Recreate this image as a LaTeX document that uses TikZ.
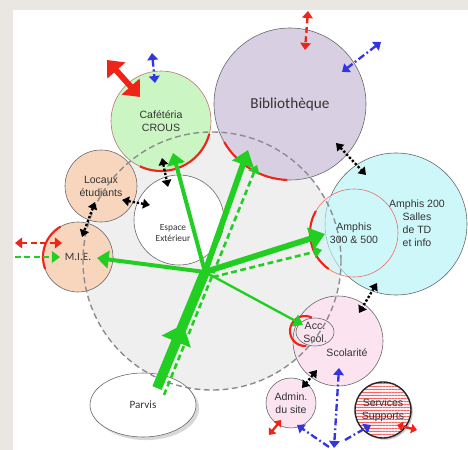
\documentclass[tikz,border=0pt]{standalone}
\usepackage{fontspec}
\setmainfont{Liberation Sans}
\newfontfamily\calib{Carlito}
\usetikzlibrary{arrows.meta,calc,shadows,shapes.geometric,patterns.meta,decorations.markings}

\definecolor{grn}{RGB}{34,206,34}
\definecolor{rouge}{RGB}{238,36,24}
\definecolor{bleu}{RGB}{52,52,226}
\definecolor{cafefill}{RGB}{204,245,196}
\definecolor{bibfill}{RGB}{216,208,226}
\definecolor{amphfill}{RGB}{206,247,250}
\definecolor{peach}{RGB}{248,214,190}
\definecolor{rose}{RGB}{251,228,240}
\definecolor{campus}{RGB}{239,239,239}
\definecolor{frame}{RGB}{234,231,226}

\tikzstyle{zone}=[circle,draw=black!60,line width=0.5pt,inner sep=0pt,outer sep=0pt,align=center,font=\fontsize{9}{11}\selectfont,text=black!80]
\tikzstyle{lbl}=[align=center,font=\fontsize{9}{11}\selectfont,text=black!80]
\tikzstyle{redarc}=[draw=rouge,line width=1.8pt]
\tikzstyle{bigarrow}=[draw=grn,line width=5pt,-{Triangle[length=13pt,width=19pt]}]
\tikzstyle{midarrow}=[draw=grn,line width=3.4pt,-{Triangle[length=10pt,width=15pt]}]
\tikzstyle{thinarrow}=[draw=grn,line width=2pt,-{Triangle[length=8pt,width=11pt]}]
\tikzstyle{grndash}=[draw=grn,line width=2.2pt,dash pattern=on 5pt off 3pt,-{Triangle[length=7pt,width=10pt]}]
\tikzstyle{reddash}=[draw=rouge,line width=2pt,dash pattern=on 5pt off 3pt,>={Triangle[length=6pt,width=9pt]}]
\tikzstyle{redsmall}=[draw=rouge,line width=2pt,>={Triangle[length=5pt,width=8pt]},<->]
\tikzstyle{redbig}=[draw=rouge,line width=5pt,>={Triangle[length=12pt,width=20pt]},<->]
\tikzstyle{bluedash}=[draw=bleu,line width=2pt,dash pattern=on 6pt off 2.5pt on 1.5pt off 2.5pt,>={Triangle[length=6pt,width=9pt]}]
\tikzstyle{dotarrow}=[draw=black,line width=2pt,dash pattern=on 2pt off 1.6pt,>={Triangle[length=6pt,width=8pt]},<->]

\begin{document}
\begin{tikzpicture}[x=0.03cm,y=-0.03cm]

% frame
\fill[frame] (0,0) rectangle (468,450);
\fill[white] (13,10) rectangle (468,450);
\useasboundingbox (0,0) rectangle (468,450);

% campus
\fill[campus] (212,261) circle[radius=3.87cm];

% zones
\node[zone,fill=amphfill,minimum size=4.26cm] (a200) at (396,224) {};
\node[lbl] (a200T) at (417,223) {Amphis 200\\Salles\\de TD\\et info};
\node[zone,fill=amphfill,fill opacity=.6,text opacity=1,draw=rouge!70,minimum size=2.64cm] (a300) at (354,233) {Amphis\\300 \& 500};
\node[zone,fill=bibfill,minimum size=4.56cm,font=\calib\fontsize{13}{15}\selectfont] (bib) at (290,104) {Bibliothèque};
\node[zone,fill=cafefill,draw=rouge!60!black!60,minimum size=3cm] (cafe) at (161,121) {Cafétéria\\CROUS};
\node[zone,fill=peach,minimum size=2.16cm] (locaux) at (101,186) {Locaux\\étudiants};
\node[zone,fill=peach,minimum size=2.1cm,font=\calib\fontsize{9.5}{11}\selectfont] (mie) at (78,257) {M.I.E.};
\node[zone,fill=white,minimum size=2.7cm] (espace) at (179,220) {};
\node[lbl,font=\calib\fontsize{8}{10}\selectfont] (espaceT) at (173,233) {Espace\\Extérieur};
\node[zone,fill=rose,minimum size=2.7cm] (scol) at (338,341) {};
\node[lbl] (scolT) at (347,353) {Scolarité};
\node[zone,ellipse,fill=rose,minimum width=1.14cm,minimum height=0.84cm,inner sep=-4pt] (acc) at (315,332) {Acc.\\Scol.};
\node[zone,fill=rose,minimum size=1.5cm] (admin) at (291,403) {Admin.\\du site};
\node[zone,draw=black!85,line width=1.2pt,drop shadow={opacity=.45,shadow xshift=1.5pt,shadow yshift=-1.5pt},preaction={fill=rose!60},pattern={Lines[angle=0,distance=2.6pt,line width=.5pt]},pattern color=rouge!70,minimum size=1.68cm] (serv) at (383,410) {Services\\Supports};
\node[zone,ellipse,fill=white,minimum width=3.18cm,minimum height=1.92cm,font=\calib\fontsize{9.5}{11}\selectfont,drop shadow={opacity=.3}] (parvis) at (143,405) {Parvis};

% campus outline
\draw[black!45,line width=1.2pt,dash pattern=on 5pt off 3pt] (212,261) circle[radius=3.87cm];

% red borders
\foreach \n/\a/\b/\r in {cafe/-15/-115/1.5cm, bib/-92/-150/2.28cm, a300/150/235/1.32cm, mie/120/200/1.05cm}
    \draw[redarc] (\n.\a) arc[start angle=\a, end angle=\b, radius=\r];
\draw[redarc] ($(acc)+(-10,-1)$) ++(63:0.45cm) arc[start angle=63, end angle=275, radius=0.45cm];

% arrow ends
\foreach \pos/\name in {{(205,272)/hub},{(213,277)/hubD},{(157,388)/pv1},{(164,395)/pv2},
    {(173,153)/tCafe},{(248,150)/tBib},{(257,165)/tBibD},{(325,234)/tAmph},{(322,250)/tAmphD},
    {(97,258)/tMie},{(303,325)/tAcc},{(15,257)/gIn},{(60,257)/tMieD},{(15,243)/rIn},{(62,243)/rMie},
    {(107,60)/rc1},{(140,97)/rc2},{(152,53)/bc1},{(155,83)/bc2},{(308,11)/rb1},{(305,50)/rb2},
    {(381,42)/bb1},{(342,72)/bb2},{(339,368)/bs1},{(334,448)/bs2},{(329,447)/bsA},{(297,425)/ba},
    {(345,440)/bsB},{(371,425)/bsv},{(281,420)/ra1},{(269,435)/ra2},{(397,425)/rs1},{(417,430)/rs2},
    {(336,143)/d1a},{(366,175)/d1b},{(162,158)/d2a},{(168,187)/d2b},{(122,200)/d3a},{(150,205)/d3b},
    {(95,202)/d4a},{(82,237)/d4b},{(377,283)/d5a},{(359,313)/d5b},{(317,370)/d6a},{(302,388)/d6b}}
    \node[coordinate] (\name) at \pos {};

% green flows
\draw[color=grn,line width=8.5pt,postaction={decorate},decoration={markings,mark=at position .55 with {\arrow{Triangle[length=16pt,width=26pt]}}}] (pv1) -- (hub);
\draw[bigarrow] (hub) -- (tBib);
\draw[bigarrow] (hub) -- (tAmph);
\draw[grndash] (pv2) -- (tBibD);
\draw[grndash] (hubD) -- (tAmphD);
\draw[midarrow] (hub) -- (tCafe);
\draw[midarrow] (hub) -- (tMie);
\draw[thinarrow] (hub) -- (tAcc);
\draw[grndash,line width=2pt] (gIn) -- (tMieD);

% red / blue exits
\draw[reddash,<->] (rIn) -- (rMie);
\draw[reddash,<->] (rb1) -- (rb2);
\draw[redbig] (rc1) -- (rc2);
\foreach \a/\b in {ra1/ra2, rs1/rs2}
    \draw[redsmall] (\a) -- (\b);
\foreach \a/\b in {bc1/bc2, bb1/bb2, bs1/bs2}
    \draw[bluedash,<->] (\a) -- (\b);
\draw[bluedash,->] (bsA) -- (ba);
\draw[bluedash,->] (bsB) -- (bsv);

% links between zones
\foreach \a/\b in {d1a/d1b, d2a/d2b, d3a/d3b, d4a/d4b, d5a/d5b, d6a/d6b}
    \draw[dotarrow] (\a) -- (\b);

\end{tikzpicture}
\end{document}
